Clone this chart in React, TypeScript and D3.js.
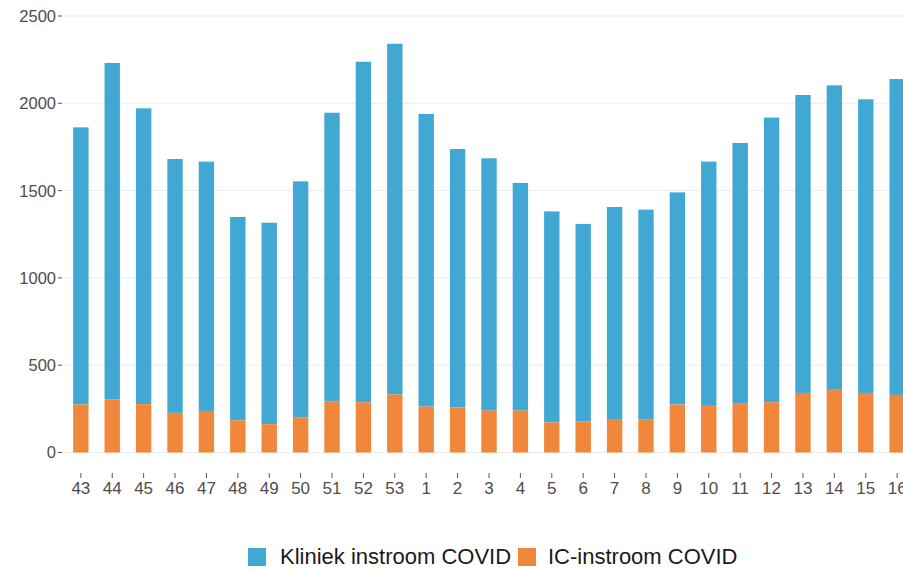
import React from "react";
import * as d3 from "d3";

const weeks: string[] = ["43","44","45","46","47","48","49","50","51","52","53","1","2","3","4","5","6","7","8","9","10","11","12","13","14","15","16"];
const totalInstroom: number[] = [1862,2231,1971,1681,1666,1349,1316,1553,1946,2238,2341,1939,1738,1685,1544,1381,1309,1406,1391,1490,1666,1773,1918,2048,2103,2023,2139];
const icInstroom: number[] = [275,305,277,227,238,185,162,202,294,288,332,263,258,240,240,172,179,192,191,275,267,279,288,341,359,341,330];
const kliniekInstroom: number[] = totalInstroom.map((t, i) => t - icInstroom[i]);
const yTicks: number[] = [0, 500, 1000, 1500, 2000, 2500];
const seriesNames: string[] = ["Kliniek instroom COVID", "IC-instroom COVID"];
const seriesColors: string[] = ["#41a8d3", "#f0873a"];

const W = 903;
const H = 570;

export default function App() {
  const x = d3.scaleBand<string>()
    .domain(weeks)
    .range([62, 916])
    .paddingInner(0.51)
    .paddingOuter(0.355);
  const y = d3.scaleLinear().domain([0, 2500]).range([452.5, 16]);
  const bw = x.bandwidth();
  const font = "'Liberation Sans', Arial, sans-serif";

  return (
    <div style={{ position: "fixed", left: 0, top: 0 }}>
      <svg width={W} height={H} style={{ display: "block", background: "#fff" }} fontFamily={font}>
        {yTicks.map((t) => (
          <g key={t}>
            <line x1={62} x2={W} y1={y(t)} y2={y(t)} stroke="#ececec" strokeWidth={1} />
            <line x1={58} x2={62} y1={y(t)} y2={y(t)} stroke="#555" strokeWidth={1} />
            <text x={56} y={y(t)} dy="0.36em" textAnchor="end" fontSize={16.5} fill="#4d4d4d">{t}</text>
          </g>
        ))}
        {weeks.map((w, i) => {
          const x0 = x(w)!;
          return (
            <g key={w}>
              <rect x={x0} width={bw} y={y(icInstroom[i] + kliniekInstroom[i])} height={y(icInstroom[i]) - y(icInstroom[i] + kliniekInstroom[i])} fill={seriesColors[0]} />
              <rect x={x0} width={bw} y={y(icInstroom[i])} height={y(0) - y(icInstroom[i])} fill={seriesColors[1]} />
              <line x1={x0 + bw / 2} x2={x0 + bw / 2} y1={473} y2={478} stroke="#555" strokeWidth={1} />
              <text x={x0 + bw / 2} y={494} textAnchor="middle" fontSize={17} fill="#4d4d4d">{w}</text>
            </g>
          );
        })}
        <g>
          <rect x={248} y={548} width={18} height={18} fill={seriesColors[0]} />
          <text x={280} y={564} fontSize={22} fill="#1a1a1a">{seriesNames[0]}</text>
          <rect x={518} y={548} width={18} height={18} fill={seriesColors[1]} />
          <text x={548} y={564} fontSize={22} fill="#1a1a1a">{seriesNames[1]}</text>
        </g>
      </svg>
    </div>
  );
}
